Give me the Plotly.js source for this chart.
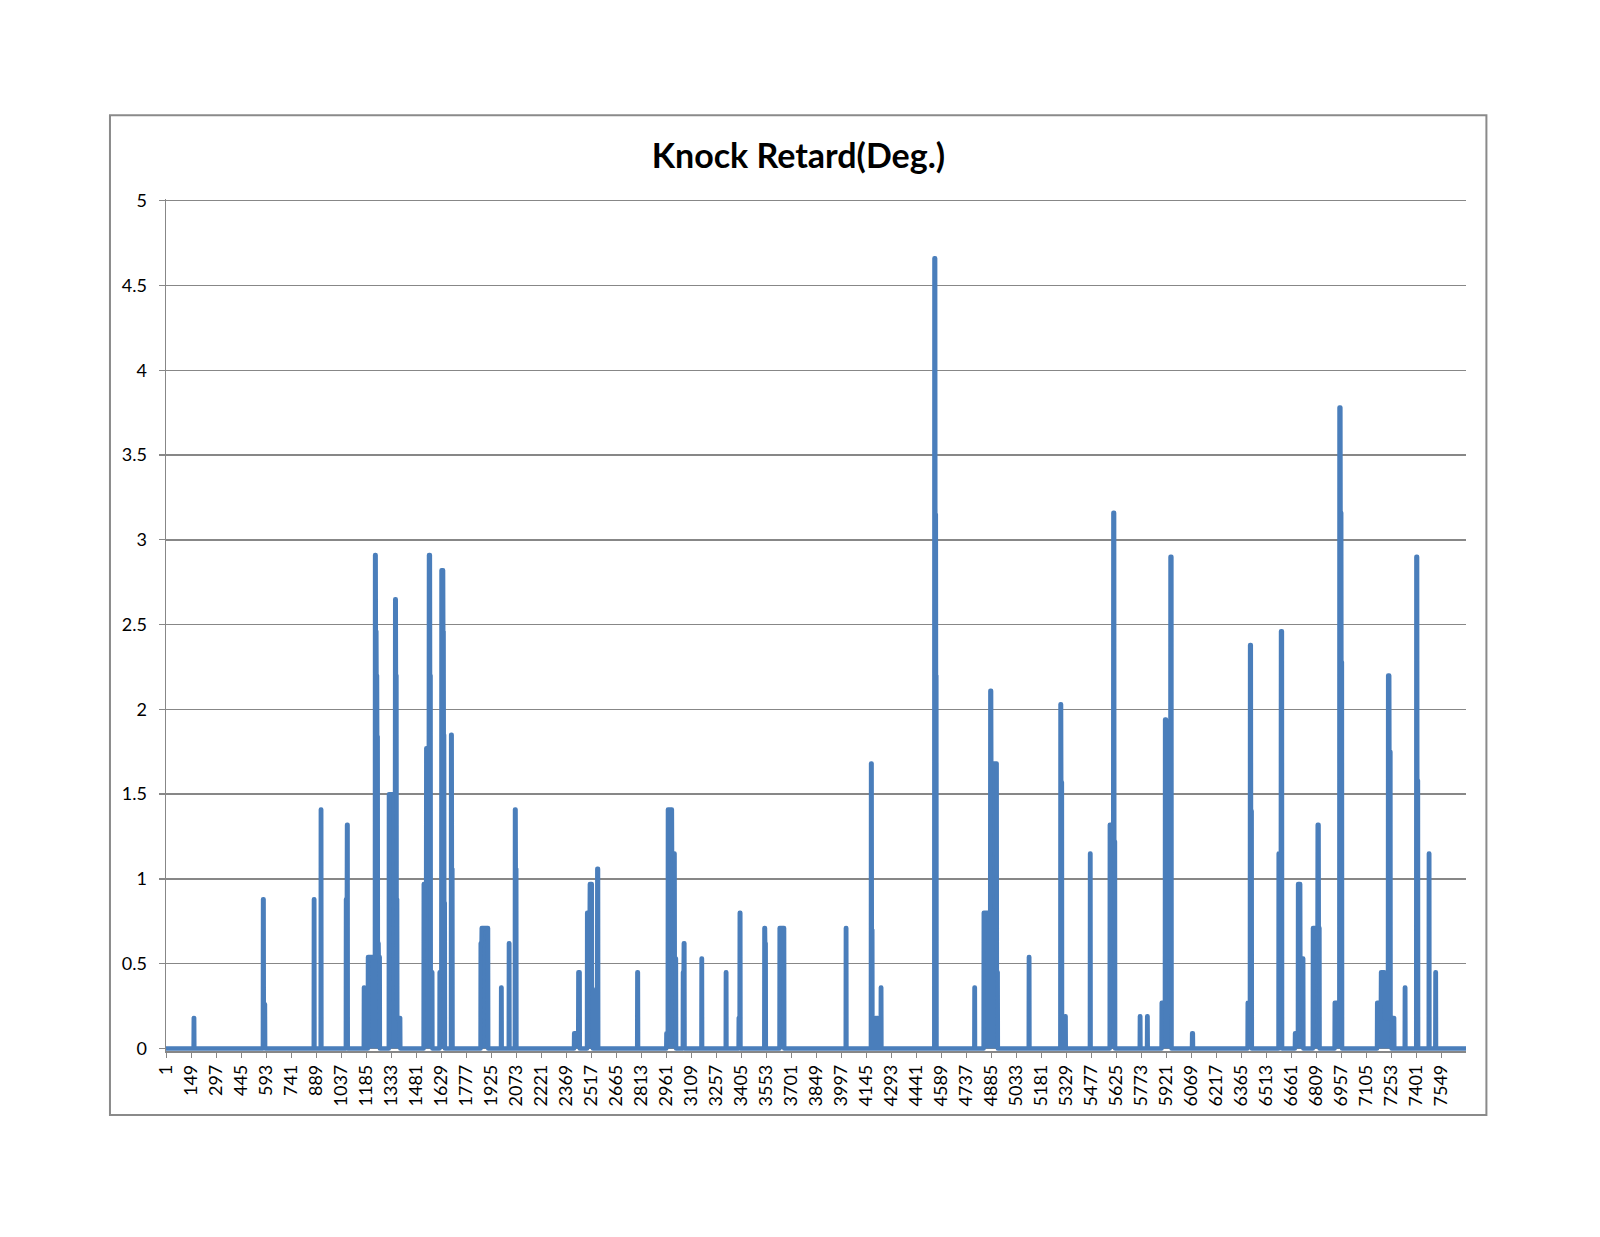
<!DOCTYPE html>
<html>
<head>
<meta charset="utf-8">
<script src="https://cdn.plot.ly/plotly-3.0.1.min.js"></script>
<style>
html,body{margin:0;padding:0;background:#fff;}
#chart{width:1600px;height:1237px;}
#chart .js-line{stroke-linejoin:round;stroke-linecap:round;}
</style>
</head>
<body>
<div id="chart"></div>
<script>
// ---- data ----
const sampleCount = 7693;
const xTickLabels = ["1","149","297","445","593","741","889","1037","1185","1333","1481","1629","1777","1925","2073","2221","2369","2517","2665","2813","2961","3109","3257","3405","3553","3701","3849","3997","4145","4293","4441","4589","4737","4885","5033","5181","5329","5477","5625","5773","5921","6069","6217","6365","6513","6661","6809","6957","7105","7253","7401","7549"];
const yTickValues = [0,0.5,1,1.5,2,2.5,3,3.5,4,4.5,5];

// constant-value runs of Knock Retard (samples outside runs are 0)
const runFrom = [165, 575,579, 876, 917, 1066,1072, 1172,
  1196,1238,1242,1246,1250,1254,1259,
  1320,1357,1361,1365,1369,
  1526,1541,1557,1563,1567,
  1620,1631,1641,1644,1647,
  1688,1692,
  1863,1869, 1984, 2030, 2066,2070,
  2416,2441, 2493,2509,2521, 2553, 2790,
  2962,2971,2995,3011, 3060,3065, 3170, 3314, 3390,3396, 3542,3546, 3632, 4024,
  4173,4177, 4199, 4209, 4231,
  4548,4553,4557, 4785,
  4840,4879,4884,4917, 5107, 5294,5298, 5321, 5469,
  5586,5607,5612, 5764, 5807,
  5893,5913,5919,5945, 6073,
  6402,6416,6421, 6585,6599,
  6682,6700,6713, 6788,6816,6822,
  6917,6945,6951,6956,
  7168,7191,7211,7233,7240,7247,7262,
  7332, 7400,7405, 7474, 7513];
const runTo = [167, 578,586, 878, 919, 1071,1075, 1174,
  1237,1241,1245,1249,1253,1258,1265,
  1356,1360,1364,1368,1386,
  1540,1556,1562,1566,1576,
  1630,1640,1643,1646,1650,
  1691,1695,
  1868,1906, 1986, 2032, 2069,2073,
  2440,2448, 2508,2520,2526, 2557, 2793,
  2970,2994,3010,3018, 3064,3068, 3172, 3316, 3395,3399, 3545,3549, 3658, 4026,
  4176,4180, 4203, 4213, 4233,
  4552,4556,4559, 4787,
  4878,4883,4916,4922, 5109, 5297,5302, 5324, 5471,
  5606,5611,5616, 5766, 5809,
  5912,5918,5944,5950, 6077,
  6415,6420,6425, 6598,6604,
  6699,6712,6730, 6815,6821,6826,
  6944,6950,6955,6959,
  7190,7210,7232,7239,7246,7252,7268,
  7334, 7404,7409, 7476, 7515];
const runVal = [0.18, 0.88,0.26, 0.88, 1.41, 0.88,1.32, 0.36,
  0.54,2.91,2.46,2.2,1.84,0.62,0.54,
  1.5,2.65,2.2,0.88,0.18,
  0.97,1.77,2.91,2.2,0.45,
  0.45,2.82,2.46,1.85,0.86,
  1.85,1.06,
  0.62,0.71, 0.36, 0.62, 1.41,1.06,
  0.09,0.45, 0.8,0.97,0.35, 1.06, 0.45,
  0.09,1.41,1.15,0.53, 0.45,0.62, 0.53, 0.45, 0.18,0.8, 0.71,0.62, 0.71, 0.71,
  1.68,0.7, 0.18, 0.18, 0.36,
  4.66,3.15,2.2, 0.36,
  0.8,2.11,1.68,0.45, 0.54, 2.03,1.57, 0.19, 1.15,
  1.32,3.16,1.22, 0.19, 0.19,
  0.27,1.94,0.54,2.9, 0.09,
  0.27,2.38,1.4, 1.15,2.46,
  0.09,0.97,0.53, 0.71,1.32,0.71,
  0.27,3.78,3.16,2.28,
  0.27,0.45,0.18,2.2,1.75,0.18,0.18,
  0.36, 2.9,1.58, 1.15, 0.45];

// ---- build the line vertices from the runs ----
const xs = [1], ys = [0];
let lastX = 1;
for (let i = 0; i < runFrom.length; i++) {
  const f = runFrom[i], t = runTo[i], v = runVal[i];
  const contiguous = i > 0 && f === runTo[i-1] + 1;
  if (!contiguous && f - 1 > lastX) { xs.push(f - 1); ys.push(0); }
  xs.push(f); ys.push(v);
  if (t !== f) { xs.push(t); ys.push(v); }
  lastX = t;
  const nextContig = i + 1 < runFrom.length && runFrom[i+1] === t + 1;
  if (!nextContig) { xs.push(t + 1); ys.push(0); lastX = t + 1; }
}
xs.push(sampleCount); ys.push(0);

const blue = '#4A7EBB';
const trace = {
  type: 'scatter', mode: 'lines', x: xs, y: ys,
  line: {color: blue, width: 4.5, shape: 'linear'},
  fill: 'tozeroy', fillcolor: blue,
  hoverinfo: 'skip'
};

const gray = '#878787';
const layout = {
  width: 1600, height: 1237,
  paper_bgcolor: '#ffffff', plot_bgcolor: '#ffffff',
  margin: {l: 166, r: 134, t: 199, b: 186, pad: 0},
  showlegend: false,
  font: {family: 'Lato, "Open Sans", sans-serif', color: '#000'},
  title: {
    text: '<b>Knock Retard(Deg.)</b>',
    font: {family: 'Lato, "Open Sans", sans-serif', size: 34, color: '#000'},
    x: 0.499, xref: 'container', xanchor: 'center',
    y: 1 - 156/1237, yref: 'container', yanchor: 'middle'
  },
  xaxis: {
    range: [0.5, sampleCount + 0.5],
    tickmode: 'array',
    tickvals: xTickLabels.map(Number),
    ticktext: xTickLabels,
    tickangle: -90,
    tickfont: {size: 18, color: '#000'},
    ticks: 'outside', ticklen: 5, tickcolor: gray, tickwidth: 1,
    showgrid: false, zeroline: false,
    showline: true, linecolor: gray, linewidth: 1.5,
    fixedrange: true
  },
  yaxis: {
    range: [-0.015, 5.01],
    tickmode: 'array',
    tickvals: yTickValues,
    ticktext: yTickValues.map(String),
    tickfont: {size: 18, color: '#000'},
    ticks: 'outside', ticklen: 6, tickcolor: gray, tickwidth: 1.3,
    ticklabelstandoff: 8,
    showgrid: true, gridcolor: gray, gridwidth: 1.5,
    zeroline: false,
    showline: true, linecolor: gray, linewidth: 1.5,
    fixedrange: true
  },
  shapes: [{
    type: 'rect', xref: 'paper', yref: 'paper',
    x0: -0.0431, x1: 1.0157, y0: -0.0751, y1: 1.0983,
    line: {color: '#8a8a8a', width: 2}, fillcolor: 'rgba(0,0,0,0)', layer: 'below'
  }]
};

Plotly.newPlot('chart', [trace], layout, {staticPlot: true, displayModeBar: false});
</script>
</body>
</html>
